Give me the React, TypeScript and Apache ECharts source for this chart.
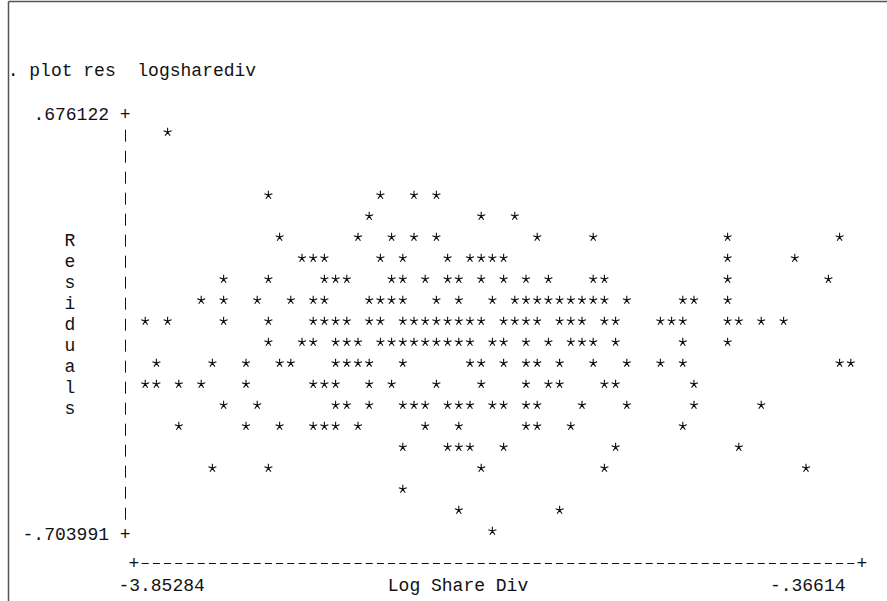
import React, { useEffect, useRef } from 'react';
import * as echarts from 'echarts';

// ---- text content ----
const commandLine = '. plot res  logsharediv';
const yAxisTitle = 'Residuals';
const xAxisTitle = 'Log Share Div';
const yTickValues = [0.676122, -0.703991];
const yTickLabels = ['.676122', '-.703991'];
const xTickValues = [-3.85284, -0.36614];
const xTickLabels = ['-3.85284', '-.36614'];

// ---- data: residual level (print line) and the Log Share Div values plotted on it ----
const residualLevels = [
  0.6071, 0.4001, 0.3311, 0.2621, 0.1931, 0.1241, 0.0551, -0.0139, -0.0829,
  -0.1519, -0.221, -0.29, -0.359, -0.428, -0.497, -0.566, -0.635, -0.7039,
];
const logShareDivByLevel: number[][] = [
  [-3.7422],
  [-3.2441, -2.6906, -2.5246, -2.4139],
  [-2.746, -2.1925, -2.0265],
  [-3.1887, -2.8013, -2.6353, -2.5246, -2.4139, -1.9158, -1.6391, -0.9749, -0.4215],
  [-3.078, -3.0227, -2.9673, -2.6906, -2.5799, -2.3585, -2.2479, -2.1925, -2.1372, -2.0818, -0.9749, -0.6429],
  [-3.4654, -3.2441, -2.9673, -2.912, -2.8566, -2.6353, -2.5799, -2.4692, -2.3585, -2.3032, -2.1925, -2.0818, -1.9711, -1.8604, -1.6391, -1.5837, -0.9749, -0.4768],
  [-3.5761, -3.4654, -3.2994, -3.1334, -3.0227, -2.9673, -2.746, -2.6906, -2.6353, -2.5799, -2.4139, -2.3032, -2.1372, -2.0265, -1.9711, -1.9158, -1.8604, -1.8051, -1.7498, -1.6944, -1.6391, -1.5837, -1.473, -1.1963, -1.141, -0.9749],
  [-3.8528, -3.7422, -3.4654, -3.2441, -3.0227, -2.9673, -2.912, -2.8566, -2.746, -2.6906, -2.5799, -2.5246, -2.4692, -2.4139, -2.3585, -2.3032, -2.2479, -2.1925, -2.0818, -2.0265, -1.9711, -1.9158, -1.8051, -1.7498, -1.6944, -1.5837, -1.5284, -1.307, -1.2517, -1.1963, -0.9749, -0.9196, -0.8089, -0.6982],
  [-3.2441, -3.078, -3.0227, -2.912, -2.8566, -2.8013, -2.6906, -2.6353, -2.5799, -2.5246, -2.4692, -2.4139, -2.3585, -2.3032, -2.2479, -2.1372, -2.0818, -1.9711, -1.8604, -1.7498, -1.6944, -1.6391, -1.5284, -1.1963, -0.9749],
  [-3.7975, -3.5208, -3.3547, -3.1887, -3.1334, -2.912, -2.8566, -2.8013, -2.746, -2.5799, -2.2479, -2.1925, -2.0818, -1.9711, -1.9158, -1.8051, -1.6391, -1.473, -1.307, -1.1963, -0.4215, -0.3661],
  [-3.8528, -3.7975, -3.6868, -3.5761, -3.3547, -3.0227, -2.9673, -2.912, -2.746, -2.6353, -2.4139, -2.1925, -1.9711, -1.8604, -1.8051, -1.5837, -1.5284, -1.141],
  [-3.4654, -3.2994, -2.912, -2.8566, -2.746, -2.5799, -2.5246, -2.4692, -2.3585, -2.3032, -2.2479, -2.1372, -2.0818, -1.9711, -1.9158, -1.6944, -1.473, -1.141, -0.8089],
  [-3.6868, -3.3547, -3.1887, -3.0227, -2.9673, -2.912, -2.8013, -2.4692, -2.3032, -1.9711, -1.9158, -1.7498, -1.1963],
  [-2.5799, -2.3585, -2.3032, -2.2479, -2.0818, -1.5284, -0.9196],
  [-3.5208, -3.2441, -2.1925, -1.5837, -0.5875],
  [-2.5799],
  [-2.3032, -1.8051],
  [-2.1372],
];

// ---- styling / layout ----
const W = 887;
const H = 601;
const FF = '"Liberation Mono", "DejaVu Sans Mono", monospace';
const FS = 18;
const INK = '#111';
const STAR = 'path://M0,0L0,-4M0,0L3.8,-1.24M0,0L-3.8,-1.24M0,0L-2.35,3.24M0,0L2.35,3.24';

export default function App() {
  const ref = useRef<HTMLDivElement>(null);

  useEffect(() => {
    if (!ref.current) return;
    const chart = echarts.init(ref.current, null, { renderer: 'svg', width: W, height: H });

    const data: number[][] = [];
    residualLevels.forEach((res, i) => {
      logShareDivByLevel[i].forEach((x) => data.push([x, res]));
    });

    chart.setOption({
      animation: false,
      backgroundColor: '#fff',
      grid: { left: 145.2, right: W - 850.8, top: 110.7, bottom: H - 530.7, containLabel: false },
      xAxis: {
        type: 'value', min: xTickValues[0], max: xTickValues[1], show: false,
      },
      yAxis: {
        type: 'value', min: yTickValues[1], max: yTickValues[0], show: false,
      },
      series: [
        {
          type: 'scatter',
          data,
          clip: false,
          silent: true,
          symbol: STAR,
          symbolSize: [8, 8],
          itemStyle: { color: INK, borderColor: INK, borderWidth: 1.1, opacity: 1 },
        },
      ],
    });

    const [xL, yT] = chart.convertToPixel({ gridIndex: 0 }, [xTickValues[0], yTickValues[0]]) as number[];
    const [xR, yB] = chart.convertToPixel({ gridIndex: 0 }, [xTickValues[1], yTickValues[1]]) as number[];
    const rowH = (yB - yT) / 20;
    const colW = (xR - xL) / 63;
    const rowY = (r: number) => yT + r * rowH;
    const colX = (c: number) => xL + (c - 1) * colW;
    const yAxisX = xL - 20.2;
    const TDY = 4; // text centre offset from a print line's star centre

    const text = (x: number, y: number, s: string, align = 'left') => ({
      type: 'text',
      silent: true,
      x,
      y,
      style: {
        text: s,
        fill: INK,
        fontFamily: FF,
        fontSize: FS,
        align,
        verticalAlign: 'middle',
        textAlign: align,
        textVerticalAlign: 'middle',
      },
    });
    const line = (x1: number, y1: number, x2: number, y2: number, extra: any = {}) => ({
      type: 'line',
      silent: true,
      shape: { x1, y1, x2, y2 },
      style: { stroke: INK, lineWidth: 1, ...extra },
    });

    const g: any[] = [];
    // window frame (top and left edges)
    g.push(line(8.5, 1.5, 8.5, H, { stroke: '#555', lineWidth: 1.5 }));
    g.push(line(8.5, 1.5, W, 1.5, { stroke: '#555', lineWidth: 1.5 }));
    // command line
    g.push(text(7.7, rowY(-2) + 2, commandLine));
    // y axis: tick labels with '+', and '|' on the other print lines
    g.push(text(yAxisX + 5.6, rowY(0) + TDY, yTickLabels[0] + ' +', 'right'));
    g.push(text(yAxisX + 5.6, rowY(20) + TDY, yTickLabels[1] + ' +', 'right'));
    for (let r = 1; r < 20; r++) g.push(line(yAxisX + 0.5, rowY(r) - 2, yAxisX + 0.5, rowY(r) + 10));
    // y title, one letter per print line
    yAxisTitle.split('').forEach((ch, k) => g.push(text(70, rowY(6 + k) + TDY, ch, 'center')));
    // x axis: +-----...-----+
    const axY = 563;
    g.push(text(colX(0), axY + 1, '+', 'center'));
    g.push(text(colX(65), axY + 1, '+', 'center'));
    g.push(line(colX(1) - 3.5, axY + 0.5, colX(64) + 3.5, axY + 0.5, { lineDash: [7, colW - 7] }));
    // x tick labels and title
    const labY = 586;
    g.push(text(xL - 26.8, labY, xTickLabels[0], 'left'));
    g.push(text(xR - 5.3, labY, xTickLabels[1], 'right'));
    g.push(text(458, labY, xAxisTitle, 'center'));

    chart.setOption({ graphic: { elements: g } });

    return () => chart.dispose();
  }, []);

  return (
    <div
      ref={ref}
      style={{ position: 'absolute', left: 0, top: 0, width: W, height: H, background: '#fff' }}
    />
  );
}
